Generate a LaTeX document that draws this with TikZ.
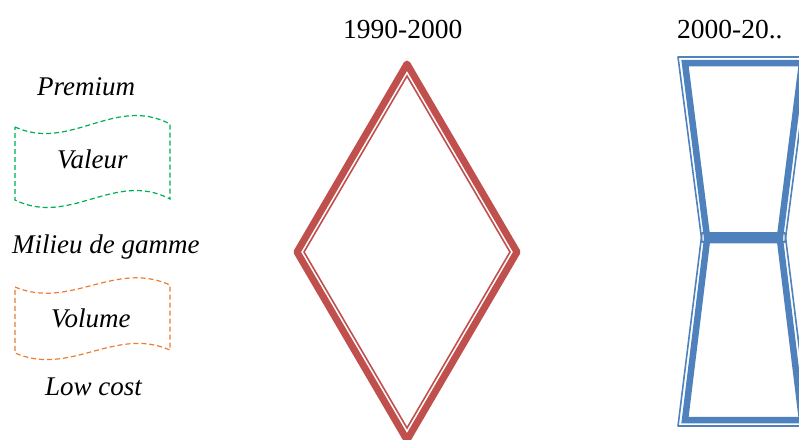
\documentclass[tikz,border=0pt]{standalone}
\usepackage{fontspec}
\setmainfont{Liberation Serif}
\definecolor{wred}{HTML}{C0504D}
\definecolor{wblue}{HTML}{4F81BD}
\definecolor{wgreen}{HTML}{00B050}
\definecolor{worange}{HTML}{ED7D31}
\tikzset{
  lbl/.style={anchor=base west, inner sep=0pt, font=\fontsize{27}{30}\selectfont\itshape},
  yr/.style={anchor=base west, inner sep=0pt, font=\fontsize{27.5}{32}\selectfont},
  wave/.style={dash pattern=on 5pt off 3pt, line width=1.2pt},
  thickr/.style={wred, line width=7pt, line join=round},
  thinr/.style={wred, line width=1.6pt, line join=miter},
  thickb/.style={wblue, line width=6.5pt, line join=miter},
  thinb/.style={wblue, line width=1.6pt, line join=round},
}
\begin{document}
\begin{tikzpicture}[x=1pt,y=-1pt]
\useasboundingbox (0,0) rectangle (799,439);
% titles
\node[yr] (t1) at (343,38) {1990-2000};
\node[yr] (t2) at (677,38) {2000-20..};
% left labels
\node[lbl] (prem) at (37,95) {Premium};
\node[lbl] (val) at (57,168) {Valeur};
\node[lbl] (mil) at (12,253) {Milieu de gamme};
\node[lbl] (vol) at (51,327) {Volume};
\node[lbl] (low) at (45,395) {Low cost};
% wave banners
\draw[wave, wgreen] (15,127) .. controls (70,152) and (115,95) .. (170,124)
   -- (170,199) .. controls (115,170) and (70,227) .. (15,200) -- cycle;
\draw[wave, worange] (15,287) .. controls (70,310) and (115,260) .. (170,285)
   -- (170,350) .. controls (115,326) and (70,377) .. (15,353) -- cycle;
% diamond
\draw[thickr] (407,64) -- (517,252) -- (407,440) -- (297,252) -- cycle;
\draw[thinr] (407,76) -- (510,252) -- (407,428) -- (304,252) -- cycle;
% hourglass
\draw[thinb] (678,57) -- (809,57) -- (785,242) -- (702,242) -- cycle;
\draw[thinb] (702,233) -- (785,233) -- (809,426) -- (678,426) -- cycle;
\draw[thickb] (685,63) -- (802,63) -- (780,237) -- (707,237) -- cycle;
\draw[thickb] (707,240) -- (780,240) -- (802,420) -- (685,420) -- cycle;
\end{tikzpicture}
\end{document}
